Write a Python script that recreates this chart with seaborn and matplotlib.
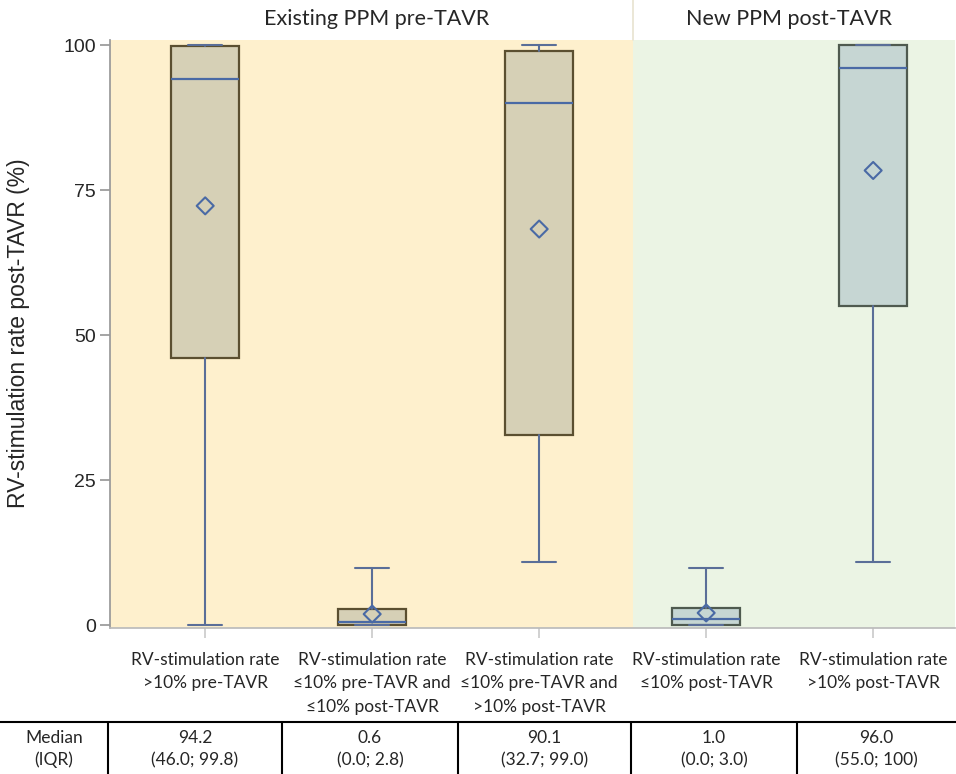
import matplotlib.pyplot as plt
import numpy as np
import pandas as pd
import seaborn as sns
from matplotlib.lines import Line2D

# Data
groups = ["RV-stimulation rate\n>10% pre-TAVR",
          "RV-stimulation rate\n\u226410% pre-TAVR and\n\u226410% post-TAVR",
          "RV-stimulation rate\n\u226410% pre-TAVR and\n>10% post-TAVR",
          "RV-stimulation rate\n\u226410% post-TAVR",
          "RV-stimulation rate\n>10% post-TAVR"]
medians = [94.2, 0.6, 90.1, 1.0, 96.0]
q1 = [46.0, 0.0, 32.7, 0.0, 55.0]
q3 = [99.8, 2.8, 99.0, 3.0, 100.0]
whis_lo = [0.0, 0.0, 10.9, 0.0, 10.9]
whis_hi = [100.0, 9.8, 100.0, 9.8, 100.0]
means = [72.3, 1.9, 68.3, 2.1, 78.4]
panel = ["pre", "pre", "pre", "post", "post"]
table_median = ["94.2", "0.6", "90.1", "1.0", "96.0"]
table_iqr = ["(46.0; 99.8)", "(0.0; 2.8)", "(32.7; 99.0)", "(0.0; 3.0)", "(55.0; 100)"]
yticks = [0, 25, 50, 75, 100]

sns.set_theme(style="white")
plt.rcParams['font.family'] = ['Liberation Sans', 'DejaVu Sans']
cal = ['Lato', 'DejaVu Sans']

W, H = 956, 774
fig = plt.figure(figsize=(W / 100, H / 100), dpi=100)
ax_l, ax_r, ax_t, ax_b = 110, 955, 40, 628
ax = fig.add_axes([ax_l / W, 1 - ax_b / H, (ax_r - ax_l) / W, (ax_b - ax_t) / H])

pos = np.arange(len(groups))
xlim = (-0.57, 4.49)
split = 2.56
ax.set_xlim(*xlim)
ax.set_ylim(-0.5, 100.9)

yellow = "#fef0cd"
green = "#ebf4e4"
ax.axvspan(xlim[0], split, color=yellow, lw=0, zorder=0)
ax.axvspan(split, xlim[1], color=green, lw=0, zorder=0)

box_face = {"pre": "#d6d0b6", "post": "#c6d6d3"}
box_edge = {"pre": "#5b4f30", "post": "#4f5a4f"}
blue = "#4a6aa5"
whisk = "#5a6e98"

for i in range(len(groups)):
    st = [{"med": medians[i], "q1": q1[i], "q3": q3[i],
           "whislo": whis_lo[i], "whishi": whis_hi[i], "fliers": []}]
    ax.bxp(st, positions=[pos[i]], widths=0.41, showfliers=False, patch_artist=True,
           boxprops=dict(facecolor=box_face[panel[i]], edgecolor=box_edge[panel[i]], linewidth=1.6),
           medianprops=dict(color=blue, linewidth=1.6),
           whiskerprops=dict(color=whisk, linewidth=1.5),
           capprops=dict(color=whisk, linewidth=1.5),
           capwidths=0.2, manage_ticks=False, zorder=2)

df = pd.DataFrame({"x": pos, "mean": means})
sns.scatterplot(data=df, x="x", y="mean", marker="D", s=75, facecolor="none",
                edgecolor=blue, linewidth=1.5, ax=ax, zorder=4)

ax.set_xticks(pos)
ax.set_xticklabels(groups, family=cal, fontsize=12.5, linespacing=1.6)
ax.set_yticks(yticks)
ax.set_yticklabels([str(t) for t in yticks], fontsize=14)
ax.set_xlabel("")
ax.set_ylabel("RV-stimulation rate post-TAVR (%)", fontsize=16.5, labelpad=14)
ax.yaxis.set_label_coords(-(ax_l - 30) / (ax_r - ax_l), 1 - (333 - ax_t) / (ax_b - ax_t))
for s in ["top", "right"]:
    ax.spines[s].set_visible(False)
ax.spines["left"].set_color("#999999")
ax.spines["bottom"].set_color("#bbbbbb")
ax.tick_params(axis="y", which="both", left=True, length=7, color="#999999", pad=3)
ax.tick_params(axis="x", which="both", bottom=True, length=7, color="#cccccc", pad=10)

# panel headers
ax.text(np.mean([xlim[0], split]) + 0.03, 1.035, "Existing PPM pre-TAVR", transform=ax.get_xaxis_transform(),
        ha="center", va="center", fontsize=15.5, family=cal)
ax.text(np.mean([split, xlim[1]]) - 0.03, 1.035, "New PPM post-TAVR", transform=ax.get_xaxis_transform(),
        ha="center", va="center", fontsize=15.5, family=cal)
ax.plot([split, split], [1.0, 1.0 + ax_t / (ax_b - ax_t)], transform=ax.get_xaxis_transform(),
        color="#e8e3d0", lw=1.2, clip_on=False)

# median / IQR table
line_y = 722
col_edges = [0, 108, 282, 458, 631, 797, W]
fig.add_artist(Line2D([0, 1], [1 - line_y / H] * 2, color="black", lw=1.5))
for xe in col_edges[1:-1]:
    fig.add_artist(Line2D([xe / W] * 2, [0, 1 - line_y / H], color="black", lw=1.5))
fig.text(col_edges[0] / W + (col_edges[1] - col_edges[0]) / 2 / W, 1 - 738 / H, "Median",
         ha="center", va="center", fontsize=12.5, family=cal)
fig.text(col_edges[0] / W + (col_edges[1] - col_edges[0]) / 2 / W, 1 - 760 / H, "(IQR)",
         ha="center", va="center", fontsize=12.5, family=cal)
for i in range(len(groups)):
    cx = (col_edges[i + 1] + col_edges[i + 2]) / 2 / W
    fig.text(cx, 1 - 738 / H, table_median[i], ha="center", va="center", fontsize=12.5, family=cal)
    fig.text(cx, 1 - 760 / H, table_iqr[i], ha="center", va="center", fontsize=12.5, family=cal)

fig.savefig("out.png", dpi=100)
